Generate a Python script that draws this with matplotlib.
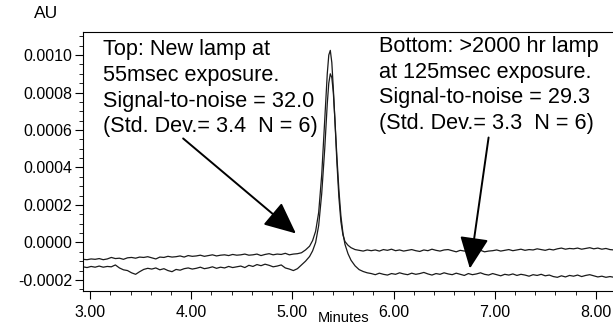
import matplotlib
matplotlib.use('Agg')
from matplotlib import pyplot as plt
from matplotlib.ticker import MultipleLocator, FormatStrFormatter
import numpy as np

plt.rcParams['font.family'] = ['Liberation Sans', 'DejaVu Sans']
plt.rcParams['axes.unicode_minus'] = False

# retention time (minutes)
minutes = [2.93, 2.97, 3.01, 3.05, 3.09, 3.13, 3.17, 3.21, 3.25, 3.29,
           3.33, 3.37, 3.41, 3.45, 3.49, 3.53, 3.57, 3.61, 3.65, 3.69,
           3.73, 3.77, 3.81, 3.85, 3.89, 3.93, 3.97, 4.01, 4.05, 4.09,
           4.13, 4.17, 4.21, 4.25, 4.29, 4.33, 4.37, 4.41, 4.45, 4.49,
           4.53, 4.57, 4.61, 4.65, 4.69, 4.73, 4.77, 4.81, 4.85, 4.89,
           4.93, 4.97, 5.01, 5.05,
           5.09, 5.13, 5.17, 5.20, 5.23, 5.26, 5.29, 5.32, 5.345, 5.36,
           5.375, 5.39, 5.405, 5.42, 5.44, 5.46, 5.48, 5.50, 5.52, 5.55,
           5.58, 5.62, 5.66, 5.70, 5.74,
           5.78, 5.82, 5.86, 5.90, 5.94, 5.98, 6.02, 6.06, 6.10, 6.14,
           6.18, 6.22, 6.26, 6.30, 6.34, 6.38, 6.42, 6.46, 6.50, 6.54,
           6.58, 6.62, 6.66, 6.70, 6.74, 6.78, 6.82, 6.86, 6.90, 6.94,
           6.98, 7.02, 7.06, 7.10, 7.14, 7.18, 7.22, 7.26, 7.30, 7.34,
           7.38, 7.42, 7.46, 7.50, 7.54, 7.58, 7.62, 7.66, 7.70, 7.74,
           7.78, 7.82, 7.86, 7.90, 7.94, 7.98, 8.02, 8.06, 8.10, 8.14,
           8.18]

# absorbance in 1e-4 AU, new lamp (top trace)
au_new_lamp = [-0.90, -0.92, -0.88, -0.90, -0.86, -0.92, -0.88, -0.80, -0.86, -0.84,
               -0.90, -0.82, -0.80, -0.84, -0.78, -0.80, -0.76, -0.82, -0.88, -0.78,
               -0.80, -0.74, -0.78, -0.76, -0.72, -0.78, -0.70, -0.74, -0.72, -0.68,
               -0.74, -0.70, -0.66, -0.72, -0.68, -0.66, -0.70, -0.64, -0.68, -0.66,
               -0.62, -0.68, -0.66, -0.62, -0.70, -0.64, -0.60, -0.66, -0.62, -0.64,
               -0.58, -0.66, -0.62, -0.60,
               -0.55, -0.40, -0.20, 0.10, 0.60, 1.60, 3.60, 6.60, 9.00, 10.00,
               10.25, 9.60, 8.20, 6.60, 4.30, 2.40, 1.10, 0.40, 0.05, -0.15,
               -0.28, -0.38, -0.42, -0.46, -0.40,
               -0.44, -0.40, -0.46, -0.38, -0.42, -0.36, -0.44, -0.40, -0.46, -0.42,
               -0.38, -0.44, -0.48, -0.40, -0.44, -0.36, -0.42, -0.46, -0.40, -0.38,
               -0.44, -0.50, -0.42, -0.46, -0.40, -0.48, -0.44, -0.42, -0.50, -0.46,
               -0.44, -0.40, -0.46, -0.42, -0.38, -0.44, -0.40, -0.36, -0.42, -0.38,
               -0.40, -0.34, -0.38, -0.42, -0.36, -0.40, -0.34, -0.30, -0.36, -0.32,
               -0.34, -0.30, -0.36, -0.32, -0.28, -0.34, -0.30, -0.36, -0.32, -0.38,
               -0.40]

# absorbance in 1e-4 AU, >2000 hr lamp (bottom trace)
au_old_lamp = [-1.30, -1.34, -1.28, -1.32, -1.26, -1.32, -1.28, -1.30, -1.20, -1.36,
               -1.46, -1.50, -1.62, -1.70, -1.56, -1.44, -1.38, -1.42, -1.36, -1.46,
               -1.40, -1.50, -1.56, -1.44, -1.48, -1.40, -1.36, -1.42, -1.38, -1.32,
               -1.40, -1.36, -1.30, -1.38, -1.32, -1.36, -1.28, -1.34, -1.30, -1.26,
               -1.34, -1.22, -1.28, -1.18, -1.24, -1.16, -1.22, -1.30, -1.26, -1.20,
               -1.36, -1.42, -1.50, -1.40,
               -1.20, -1.00, -0.75, -0.45, 0.00, 0.90, 2.60, 5.00, 7.40, 8.50,
               9.00, 8.80, 8.00, 6.60, 4.60, 2.80, 1.40, 0.50, -0.10, -0.60,
               -0.95, -1.25, -1.45, -1.55, -1.62,
               -1.66, -1.72, -1.64, -1.70, -1.74, -1.66, -1.70, -1.62, -1.68, -1.72,
               -1.64, -1.70, -1.66, -1.60, -1.68, -1.74, -1.66, -1.70, -1.62, -1.68,
               -1.72, -1.64, -1.70, -1.76, -1.66, -1.72, -1.68, -1.62, -1.70, -1.74,
               -1.66, -1.72, -1.78, -1.70, -1.74, -1.68, -1.76, -1.70, -1.74, -1.80,
               -1.72, -1.76, -1.70, -1.78, -1.74, -1.82, -1.86, -1.78, -1.84, -1.76,
               -1.80, -1.74, -1.82, -1.76, -1.72, -1.78, -1.84, -1.80, -1.86, -1.82,
               -1.86]

top_note = 'Top: New lamp at\n55msec exposure.\nSignal-to-noise = 32.0\n(Std. Dev.= 3.4  N = 6)'
bottom_note = 'Bottom: >2000 hr lamp\nat 125msec exposure.\nSignal-to-noise = 29.3\n(Std. Dev.= 3.3  N = 6)'

t = np.array(minutes)
fig = plt.figure(figsize=(6.13, 3.26), dpi=100)
ax = fig.add_axes([0.1354, 0.1074, 0.8646, 0.7944])

ax.plot(t, np.array(au_new_lamp) * 1e-4, color='#1a1a1a', lw=0.9)
ax.plot(t, np.array(au_old_lamp) * 1e-4, color='#1a1a1a', lw=0.9)

ax.set_xlim(2.93, 8.17)
ax.set_ylim(-0.000259, 0.001123)
ax.xaxis.set_major_locator(MultipleLocator(1.0))
ax.xaxis.set_minor_locator(MultipleLocator(0.2))
ax.yaxis.set_major_locator(MultipleLocator(0.0002))
ax.yaxis.set_minor_locator(MultipleLocator(0.00005))
ax.xaxis.set_major_formatter(FormatStrFormatter('%.2f'))
ax.yaxis.set_major_formatter(FormatStrFormatter('%.4f'))
ax.tick_params(axis='both', which='major', length=6, width=0.8, labelsize=11.5)
ax.tick_params(axis='both', which='minor', length=3, width=0.6)
ax.tick_params(axis='y', pad=2)
ax.tick_params(axis='x', pad=4)
ax.spines['right'].set_visible(False)
for s in ['left', 'bottom', 'top']:
    ax.spines[s].set_linewidth(0.8)

fig.text(0.075, 0.96, 'AU', fontsize=12.5, ha='center', va='center')
fig.text(0.56, 0.025, 'Minutes', fontsize=10.5, ha='center', va='center')

ax.text(0.038, 0.973, top_note, transform=ax.transAxes, fontsize=15.6,
        va='top', ha='left', linespacing=1.3)
ax.text(0.559, 0.985, bottom_note, transform=ax.transAxes, fontsize=15.6,
        va='top', ha='left', linespacing=1.3)

head = '-|>,head_length=0.7,head_width=0.32'
ax.annotate('', xy=(5.035, 0.000048), xytext=(3.92, 0.000555),
            arrowprops=dict(arrowstyle=head, color='black', lw=1.4, mutation_scale=28,
                            shrinkA=0, shrinkB=0))
ax.annotate('', xy=(6.755, -0.000139), xytext=(6.94, 0.00056),
            arrowprops=dict(arrowstyle=head, color='black', lw=1.4, mutation_scale=28,
                            shrinkA=0, shrinkB=0))

fig.savefig('out.png', dpi=100)
